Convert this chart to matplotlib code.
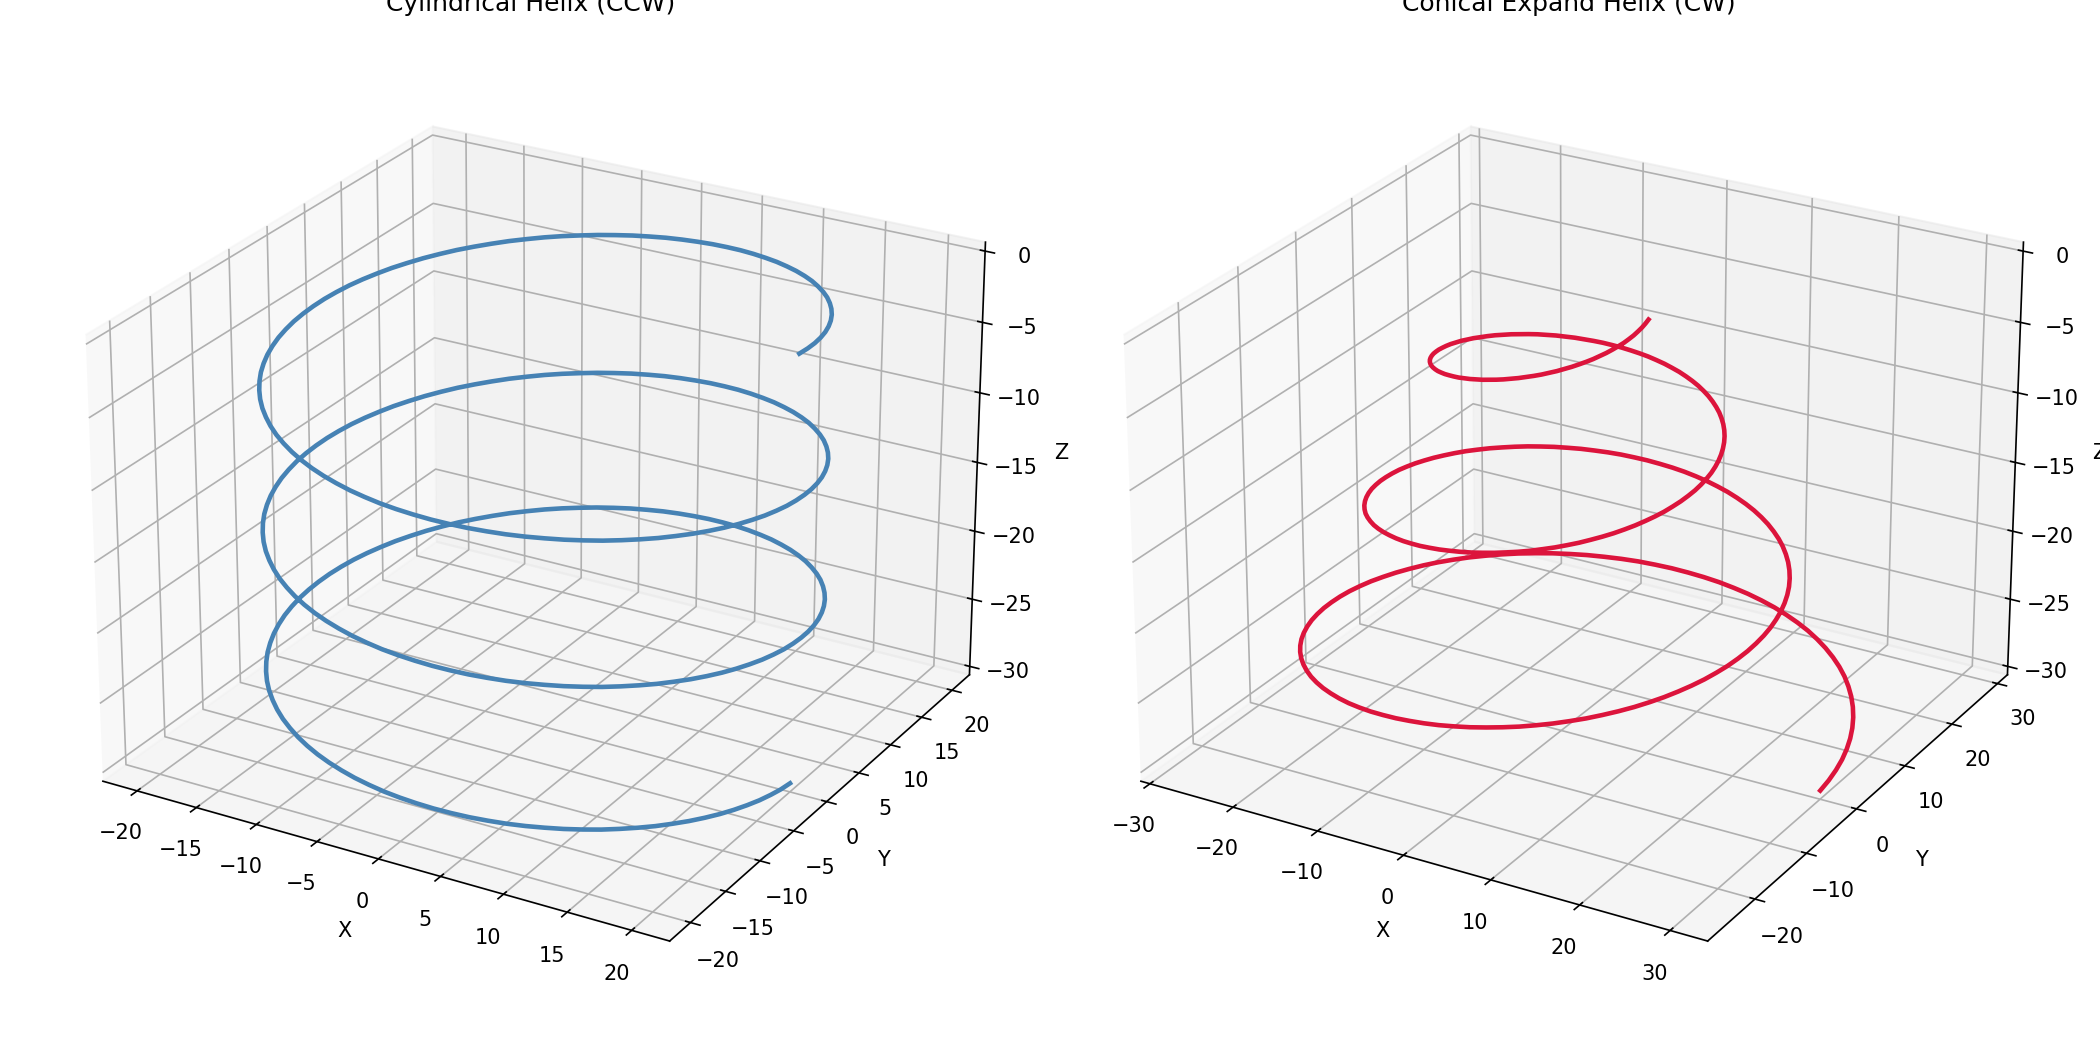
import matplotlib
matplotlib.use("Agg")
import matplotlib.pyplot as plt

cyl_x = [
    20.00, 19.96, 19.83, 19.62, 19.32, 18.94, 18.48, 17.94, 17.32, 16.63, 15.87, 15.04, 14.14, 13.19, 12.18, 11.11, 10.00, 8.85, 7.65, 6.43, 5.18, 3.90, 2.61, 1.31, 0.00, -1.31, -2.61, -3.90, -5.18, -6.43, -7.65, -8.85, -10.00, -11.11, -12.18, -13.19, -14.14, -15.04, -15.87, -16.63, -17.32, -17.94, -18.48, -18.94, -19.32, -19.62, -19.83, -19.96,
    -20.00, -19.96, -19.83, -19.62, -19.32, -18.94, -18.48, -17.94, -17.32, -16.63, -15.87, -15.04, -14.14, -13.19, -12.18, -11.11, -10.00, -8.85, -7.65, -6.43, -5.18, -3.90, -2.61, -1.31, 0.00, 1.31, 2.61, 3.90, 5.18, 6.43, 7.65, 8.85, 10.00, 11.11, 12.18, 13.19, 14.14, 15.04, 15.87, 16.63, 17.32, 17.94, 18.48, 18.94, 19.32, 19.62, 19.83, 19.96,
    20.00, 19.96, 19.83, 19.62, 19.32, 18.94, 18.48, 17.94, 17.32, 16.63, 15.87, 15.04, 14.14, 13.19, 12.18, 11.11, 10.00, 8.85, 7.65, 6.43, 5.18, 3.90, 2.61, 1.31, 0.00, -1.31, -2.61, -3.90, -5.18, -6.43, -7.65, -8.85, -10.00, -11.11, -12.18, -13.19, -14.14, -15.04, -15.87, -16.63, -17.32, -17.94, -18.48, -18.94, -19.32, -19.62, -19.83, -19.96,
    -20.00, -19.96, -19.83, -19.62, -19.32, -18.94, -18.48, -17.94, -17.32, -16.63, -15.87, -15.04, -14.14, -13.19, -12.18, -11.11, -10.00, -8.85, -7.65, -6.43, -5.18, -3.90, -2.61, -1.31, 0.00, 1.31, 2.61, 3.90, 5.18, 6.43, 7.65, 8.85, 10.00, 11.11, 12.18, 13.19, 14.14, 15.04, 15.87, 16.63, 17.32, 17.94, 18.48, 18.94, 19.32, 19.62, 19.83, 19.96,
    20.00, 19.96, 19.83, 19.62, 19.32, 18.94, 18.48, 17.94, 17.32, 16.63, 15.87, 15.04, 14.14, 13.19, 12.18, 11.11, 10.00, 8.85, 7.65, 6.43, 5.18, 3.90, 2.61, 1.31, 0.00, -1.31, -2.61, -3.90, -5.18, -6.43, -7.65, -8.85, -10.00, -11.11, -12.18, -13.19, -14.14, -15.04, -15.87, -16.63, -17.32, -17.94, -18.48, -18.94, -19.32, -19.62, -19.83, -19.96,
    -20.00, -19.96, -19.83, -19.62, -19.32, -18.94, -18.48, -17.94, -17.32, -16.63, -15.87, -15.04, -14.14, -13.19, -12.18, -11.11, -10.00, -8.85, -7.65, -6.43, -5.18, -3.90, -2.61, -1.31, 0.00, 1.31, 2.61, 3.90, 5.18, 6.43, 7.65, 8.85, 10.00, 11.11, 12.18, 13.19, 14.14, 15.04, 15.87, 16.63, 17.32, 17.94, 18.48, 18.94, 19.32, 19.62, 19.83, 19.96,
    20.00]
cyl_y = [
    0.00, 1.31, 2.61, 3.90, 5.18, 6.43, 7.65, 8.85, 10.00, 11.11, 12.18, 13.19, 14.14, 15.04, 15.87, 16.63, 17.32, 17.94, 18.48, 18.94, 19.32, 19.62, 19.83, 19.96, 20.00, 19.96, 19.83, 19.62, 19.32, 18.94, 18.48, 17.94, 17.32, 16.63, 15.87, 15.04, 14.14, 13.19, 12.18, 11.11, 10.00, 8.85, 7.65, 6.43, 5.18, 3.90, 2.61, 1.31,
    0.00, -1.31, -2.61, -3.90, -5.18, -6.43, -7.65, -8.85, -10.00, -11.11, -12.18, -13.19, -14.14, -15.04, -15.87, -16.63, -17.32, -17.94, -18.48, -18.94, -19.32, -19.62, -19.83, -19.96, -20.00, -19.96, -19.83, -19.62, -19.32, -18.94, -18.48, -17.94, -17.32, -16.63, -15.87, -15.04, -14.14, -13.19, -12.18, -11.11, -10.00, -8.85, -7.65, -6.43, -5.18, -3.90, -2.61, -1.31,
    0.00, 1.31, 2.61, 3.90, 5.18, 6.43, 7.65, 8.85, 10.00, 11.11, 12.18, 13.19, 14.14, 15.04, 15.87, 16.63, 17.32, 17.94, 18.48, 18.94, 19.32, 19.62, 19.83, 19.96, 20.00, 19.96, 19.83, 19.62, 19.32, 18.94, 18.48, 17.94, 17.32, 16.63, 15.87, 15.04, 14.14, 13.19, 12.18, 11.11, 10.00, 8.85, 7.65, 6.43, 5.18, 3.90, 2.61, 1.31,
    0.00, -1.31, -2.61, -3.90, -5.18, -6.43, -7.65, -8.85, -10.00, -11.11, -12.18, -13.19, -14.14, -15.04, -15.87, -16.63, -17.32, -17.94, -18.48, -18.94, -19.32, -19.62, -19.83, -19.96, -20.00, -19.96, -19.83, -19.62, -19.32, -18.94, -18.48, -17.94, -17.32, -16.63, -15.87, -15.04, -14.14, -13.19, -12.18, -11.11, -10.00, -8.85, -7.65, -6.43, -5.18, -3.90, -2.61, -1.31,
    0.00, 1.31, 2.61, 3.90, 5.18, 6.43, 7.65, 8.85, 10.00, 11.11, 12.18, 13.19, 14.14, 15.04, 15.87, 16.63, 17.32, 17.94, 18.48, 18.94, 19.32, 19.62, 19.83, 19.96, 20.00, 19.96, 19.83, 19.62, 19.32, 18.94, 18.48, 17.94, 17.32, 16.63, 15.87, 15.04, 14.14, 13.19, 12.18, 11.11, 10.00, 8.85, 7.65, 6.43, 5.18, 3.90, 2.61, 1.31,
    0.00, -1.31, -2.61, -3.90, -5.18, -6.43, -7.65, -8.85, -10.00, -11.11, -12.18, -13.19, -14.14, -15.04, -15.87, -16.63, -17.32, -17.94, -18.48, -18.94, -19.32, -19.62, -19.83, -19.96, -20.00, -19.96, -19.83, -19.62, -19.32, -18.94, -18.48, -17.94, -17.32, -16.63, -15.87, -15.04, -14.14, -13.19, -12.18, -11.11, -10.00, -8.85, -7.65, -6.43, -5.18, -3.90, -2.61, -1.31,
    0.00]
helix_z = [
    0.00, -0.10, -0.21, -0.31, -0.42, -0.52, -0.63, -0.73, -0.83, -0.94, -1.04, -1.15, -1.25, -1.35, -1.46, -1.56, -1.67, -1.77, -1.88, -1.98, -2.08, -2.19, -2.29, -2.40, -2.50, -2.60, -2.71, -2.81, -2.92, -3.02, -3.13, -3.23, -3.33, -3.44, -3.54, -3.65, -3.75, -3.85, -3.96, -4.06, -4.17, -4.27, -4.38, -4.48, -4.58, -4.69, -4.79, -4.90,
    -5.00, -5.10, -5.21, -5.31, -5.42, -5.52, -5.63, -5.73, -5.83, -5.94, -6.04, -6.15, -6.25, -6.35, -6.46, -6.56, -6.67, -6.77, -6.88, -6.98, -7.08, -7.19, -7.29, -7.40, -7.50, -7.60, -7.71, -7.81, -7.92, -8.02, -8.13, -8.23, -8.33, -8.44, -8.54, -8.65, -8.75, -8.85, -8.96, -9.06, -9.17, -9.27, -9.38, -9.48, -9.58, -9.69, -9.79, -9.90,
    -10.00, -10.10, -10.21, -10.31, -10.42, -10.52, -10.63, -10.73, -10.83, -10.94, -11.04, -11.15, -11.25, -11.35, -11.46, -11.56, -11.67, -11.77, -11.88, -11.98, -12.08, -12.19, -12.29, -12.40, -12.50, -12.60, -12.71, -12.81, -12.92, -13.02, -13.13, -13.23, -13.33, -13.44, -13.54, -13.65, -13.75, -13.85, -13.96, -14.06, -14.17, -14.27, -14.38, -14.48, -14.58, -14.69, -14.79, -14.90,
    -15.00, -15.10, -15.21, -15.31, -15.42, -15.52, -15.63, -15.73, -15.83, -15.94, -16.04, -16.15, -16.25, -16.35, -16.46, -16.56, -16.67, -16.77, -16.88, -16.98, -17.08, -17.19, -17.29, -17.40, -17.50, -17.60, -17.71, -17.81, -17.92, -18.02, -18.13, -18.23, -18.33, -18.44, -18.54, -18.65, -18.75, -18.85, -18.96, -19.06, -19.17, -19.27, -19.38, -19.48, -19.58, -19.69, -19.79, -19.90,
    -20.00, -20.10, -20.21, -20.31, -20.42, -20.52, -20.63, -20.73, -20.83, -20.94, -21.04, -21.15, -21.25, -21.35, -21.46, -21.56, -21.67, -21.77, -21.88, -21.98, -22.08, -22.19, -22.29, -22.40, -22.50, -22.60, -22.71, -22.81, -22.92, -23.02, -23.13, -23.23, -23.33, -23.44, -23.54, -23.65, -23.75, -23.85, -23.96, -24.06, -24.17, -24.27, -24.38, -24.48, -24.58, -24.69, -24.79, -24.90,
    -25.00, -25.10, -25.21, -25.31, -25.42, -25.52, -25.63, -25.73, -25.83, -25.94, -26.04, -26.15, -26.25, -26.35, -26.46, -26.56, -26.67, -26.77, -26.88, -26.98, -27.08, -27.19, -27.29, -27.40, -27.50, -27.60, -27.71, -27.81, -27.92, -28.02, -28.13, -28.23, -28.33, -28.44, -28.54, -28.65, -28.75, -28.85, -28.96, -29.06, -29.17, -29.27, -29.38, -29.48, -29.58, -29.69, -29.79, -29.90,
    -30.00]
con_x = [
    10.00, 10.05, 10.05, 10.01, 9.93, 9.80, 9.63, 9.40, 9.14, 8.83, 8.48, 8.09, 7.66, 7.19, 6.68, 6.13, 5.56, 4.95, 4.31, 3.64, 2.95, 2.23, 1.50, 0.75,
    0.00, -0.77, -1.54, -2.32, -3.09, -3.86, -4.62, -5.38, -6.11, -6.83, -7.52, -8.20, -8.84, -9.46, -10.03, -10.57, -11.07, -11.53, -11.94, -12.30, -12.61, -12.87, -13.08, -13.23,
    -13.33, -13.37, -13.35, -13.28, -13.15, -12.95, -12.70, -12.39, -12.03, -11.60, -11.13, -10.60, -10.02, -9.39, -8.71, -7.98, -7.22, -6.41, -5.58, -4.71, -3.81, -2.88, -1.94, -0.97,
    0.00, 0.99, 1.98, 2.97, 3.95, 4.94, 5.90, 6.85, 7.78, 8.68, 9.55, 10.39, 11.19, 11.96, 12.67, 13.34, 13.95, 14.51, 15.01, 15.45, 15.83, 16.14, 16.39, 16.57,
    16.67, 16.71, 16.67, 16.55, 16.36, 16.10, 15.78, 15.38, 14.91, 14.37, 13.77, 13.10, 12.37, 11.58, 10.74, 9.84, 8.89, 7.89, 6.86, 5.78, 4.67, 3.53, 2.37, 1.19,
    0.00, -1.21, -2.41, -3.62, -4.82, -6.01, -7.18, -8.33, -9.44, -10.54, -11.59, -12.60, -13.55, -14.47, -15.32, -16.11, -16.84, -17.50, -18.09, -18.61, -19.05, -19.41, -19.69, -19.89,
    -20.00, -20.03, -19.97, -19.82, -19.59, -19.27, -18.87, -18.38, -17.81, -17.15, -16.42, -15.61, -14.73, -13.78, -12.77, -11.69, -10.56, -9.37, -8.13, -6.85, -5.54, -4.18, -2.81, -1.41,
    0.00, 1.43, 2.85, 4.27, 5.68, 7.08, 8.45, 9.80, 11.11, 12.39, 13.61, 14.79, 15.91, 16.97, 17.96, 18.89, 19.73, 20.50, 21.18, 21.77, 22.27, 22.68, 22.99, 23.21,
    23.33, 23.35, 23.27, 23.09, 22.81, 22.42, 21.94, 21.36, 20.69, 19.92, 19.07, 18.12, 17.09, 15.98, 14.80, 13.54, 12.22, 10.84, 9.41, 7.92, 6.40, 4.83, 3.24, 1.62,
    0.00, -1.64, -3.28, -4.92, -6.54, -8.15, -9.73, -11.28, -12.78, -14.24, -15.64, -16.99, -18.26, -19.47, -20.60, -21.65, -22.61, -23.48, -24.25, -24.92, -25.49, -25.95, -26.30, -26.54,
    -26.67, -26.68, -26.58, -26.36, -26.02, -25.57, -25.02, -24.35, -23.57, -22.69, -21.71, -20.62, -19.45, -18.18, -16.83, -15.39, -13.89, -12.31, -10.68, -8.99, -7.26, -5.48, -3.68, -1.84,
    0.00, 1.86, 3.72, 5.57, 7.40, 9.22, 11.00, 12.75, 14.45, 16.09, 17.67, 19.19, 20.63, 21.99, 23.25, 24.43, 25.50, 26.47, 27.33, 28.08, 28.71, 29.22, 29.60, 29.86,
    30.00]
con_y = [
    0.00, -0.66, -1.32, -2.00, -2.66, -3.33, -3.99, -4.64, -5.28, -5.91, -6.51, -7.10, -7.66, -8.20, -8.70, -9.18, -9.62, -10.03, -10.39, -10.72, -11.00, -11.24, -11.43, -11.57,
    -11.67, -11.72, -11.71, -11.64, -11.53, -11.37, -11.16, -10.89, -10.58, -10.22, -9.81, -9.35, -8.84, -8.29, -7.70, -7.06, -6.39, -5.68, -4.94, -4.17, -3.38, -2.56, -1.72, -0.86,
    0.00, 0.88, 1.76, 2.65, 3.52, 4.40, 5.26, 6.11, 6.94, 7.76, 8.54, 9.30, 10.02, 10.71, 11.35, 11.96, 12.51, 13.02, 13.47, 13.87, 14.22, 14.51, 14.73, 14.90,
    15.00, 15.04, 15.01, 14.92, 14.76, 14.54, 14.25, 13.89, 13.47, 12.99, 12.45, 11.85, 11.19, 10.48, 9.72, 8.91, 8.06, 7.16, 6.22, 5.24, 4.24, 3.21, 2.16, 1.08,
    0.00, -1.10, -2.19, -3.29, -4.38, -5.47, -6.54, -7.59, -8.61, -9.61, -10.57, -11.49, -12.37, -13.21, -14.00, -14.73, -15.40, -16.01, -16.56, -17.04, -17.44, -17.77, -18.03, -18.22,
    -18.33, -18.36, -18.31, -18.18, -17.98, -17.69, -17.32, -16.88, -16.36, -15.76, -15.10, -14.36, -13.55, -12.68, -11.76, -10.76, -9.72, -8.62, -7.49, -6.31, -5.10, -3.85, -2.59, -1.30,
    0.00, 1.32, 2.63, 3.95, 5.25, 6.54, 7.81, 9.06, 10.28, 11.46, 12.60, 13.69, 14.73, 15.72, 16.64, 17.50, 18.28, 19.00, 19.63, 20.19, 20.66, 21.04, 21.34, 21.55,
    21.67, 21.69, 21.62, 21.45, 21.19, 20.84, 20.40, 19.86, 19.24, 18.53, 17.74, 16.86, 15.91, 14.88, 13.78, 12.61, 11.39, 10.10, 8.77, 7.39, 5.97, 4.51, 3.03, 1.52,
    0.00, -1.53, -3.06, -4.59, -6.11, -7.62, -9.09, -10.54, -11.95, -13.32, -14.63, -15.89, -17.09, -18.23, -19.29, -20.27, -21.17, -21.99, -22.71, -23.34, -23.88, -24.32, -24.65, -24.88,
    -25.00, -25.01, -24.92, -24.72, -24.42, -24.01, -23.49, -22.86, -22.13, -21.30, -20.38, -19.36, -18.26, -17.07, -15.81, -14.47, -13.06, -11.58, -10.05, -8.46, -6.83, -5.16, -3.46, -1.73,
    0.00, 1.75, 3.50, 5.25, 6.97, 8.68, 10.36, 12.01, 13.61, 15.17, 16.66, 18.09, 19.45, 20.73, 21.93, 23.04, 24.06, 24.98, 25.79, 26.50, 27.10, 27.58, 27.95, 28.20,
    28.33, 28.34, 28.22, 27.99, 27.64, 27.16, 26.56, 25.84, 25.02, 24.08, 23.03, 21.88, 20.63, 19.28, 17.84, 16.31, 14.72, 13.05, 11.32, 9.53, 7.69, 5.81, 3.90, 1.95,
    0.00]

fig = plt.figure(figsize=(14, 7), dpi=150)
ax2 = fig.add_axes([1067 / 2100, 23 / 1050, 1004 / 2100, 1004 / 1050], projection="3d")
ax1 = fig.add_axes([29 / 2100, 23 / 1050, 1004 / 2100, 1004 / 1050], projection="3d")
ax1.patch.set_alpha(0)

ax1.plot(cyl_x, cyl_y, helix_z, color="steelblue", lw=2.2)
ax1.set_title("Cylindrical Helix (CCW)")
ax2.plot(con_x, con_y, helix_z, color="crimson", lw=2.2)
ax2.set_title("Conical Expand Helix (CW)")
ax2.set_xlim(-31.1, 34.1, view_margin=0)
for ax in (ax1, ax2):
    ax.view_init(elev=25, azim=-60)
    ax.set_xlabel("X")
    ax.set_ylabel("Y")
    ax.set_zlabel("Z")

fig.savefig("out.png", dpi=150)
